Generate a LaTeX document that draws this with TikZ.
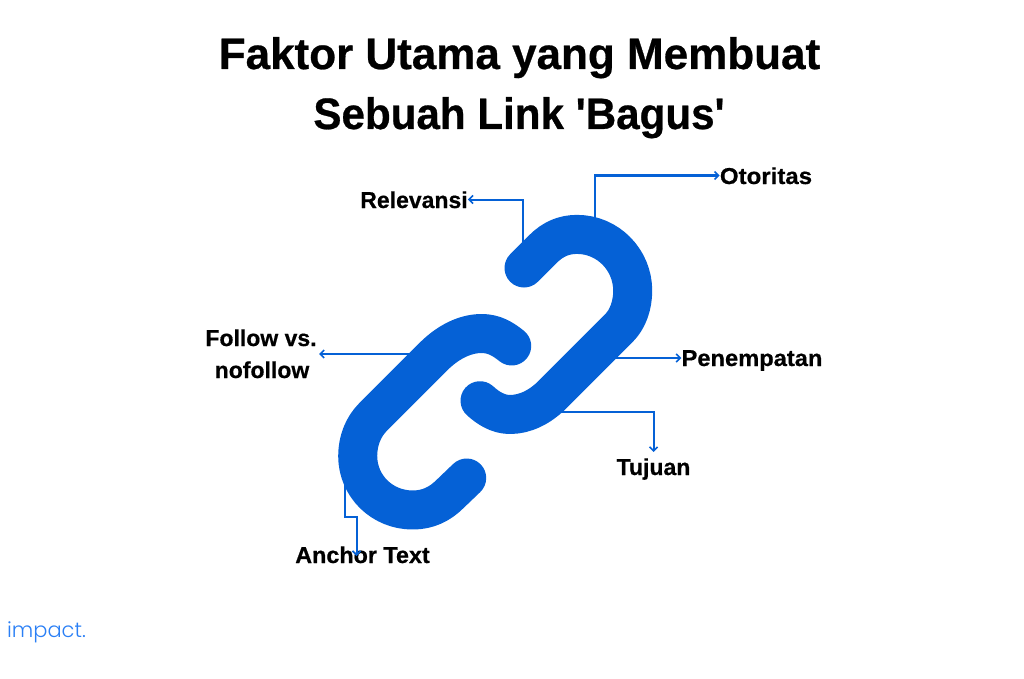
\documentclass[tikz,border=0pt]{standalone}
\usepackage{fontspec}
\newfontfamily\headfont{Liberation Sans}[BoldFeatures={FakeBold=0.6}]
\newfontfamily\logofont{Poppins Light}
\usetikzlibrary{arrows.meta}
\definecolor{linkblue}{HTML}{0561D6}
\definecolor{logoblue}{HTML}{2A7FF5}
\tikzset{
  titletext/.style={font=\headfont\bfseries\fontsize{44}{60}\selectfont,text=black,inner sep=0pt,anchor=base},
  labeltext/.style={font=\headfont\bfseries\fontsize{23}{32}\selectfont,text=black,inner sep=0pt,anchor=base},
  conn/.style={draw=linkblue,line width=2pt,-{Straight Barb[length=4pt,width=8pt,line width=1.6pt]}},
  chain/.style={draw=linkblue,line width=39pt,line cap=round,line join=round}
}
\begin{document}
\begin{tikzpicture}[x=1pt,y=-1pt]
\useasboundingbox (0,0) rectangle (1024,679);
\node[titletext] (t1) at (519.5,69) {Faktor Utama yang Membuat};
\node[titletext,xscale=0.958,transform shape] (t2) at (519,129) {Sebuah Link 'Bagus'};
\node[labeltext] (rel) at (414,208) {Relevansi};
\node[labeltext,xscale=1.045,transform shape] (oto) at (766,184) {Otoritas};
\node[labeltext] (fol1) at (261,346) {Follow vs.};
\node[labeltext] (fol2) at (262,378) {nofollow};
\node[labeltext,xscale=1.03,transform shape] (pen) at (752,366) {Penempatan};
\node[labeltext] (tuj) at (653.5,475) {Tujuan};
\node[labeltext,xscale=1.015,transform shape] (anc) at (362.5,563) {Anchor Text};
\node[font=\logofont\fontsize{21}{24}\selectfont,text=logoblue,inner sep=0pt] (logo) at (46.5,632) {impact.};
\coordinate (c1) at (595,220);
\coordinate (e1) at (595,175.5);
\coordinate (c2) at (523,243);
\coordinate (e2) at (523,199.5);
\coordinate (c3) at (412,354);
\coordinate (a3) at (319,354);
\coordinate (c4) at (613,358);
\coordinate (c5) at (558,411.5);
\coordinate (e5) at (653.5,411.5);
\coordinate (a5) at (653.5,452);
\coordinate (c6) at (345,485);
\coordinate (e6) at (345,517);
\coordinate (f6) at (356.5,517);
\coordinate (a6) at (356.5,556);
\draw[conn] (c1) -- (e1) -- (oto.west |- e1);
\draw[conn] (c2) -- (e2) -- (rel.east |- e2);
\draw[conn] (c3) -- (a3);
\draw[conn] (c4) -- (pen.west |- c4);
\draw[conn] (c5) -- (e5) -- (a5);
\draw[conn] (c6) -- (e6) -- (f6) -- (a6);
\draw[chain] (524,268) -- (543,249) .. controls (553,239) and (564,234.4) .. (577,234.4)
  .. controls (608,234.4) and (632.7,260) .. (632.7,290.7)
  .. controls (632.7,305) and (628,319) .. (619,328)
  -- (552,395) .. controls (540,407) and (525,414.5) .. (510,414.5)
  .. controls (498,414.5) and (488,408) .. (480,400.7);
\draw[chain] (511.7,346) .. controls (503,339) and (494,333.5) .. (481.7,333.5)
  .. controls (464,333.5) and (447,343) .. (433.3,356.7)
  -- (373.3,416.7) .. controls (363,427) and (357.7,441) .. (357.7,456)
  .. controls (357.7,486) and (382,510) .. (412.7,510)
  .. controls (428,510) and (440,504) .. (450,494)
  -- (466.7,478);
\end{tikzpicture}
\end{document}
